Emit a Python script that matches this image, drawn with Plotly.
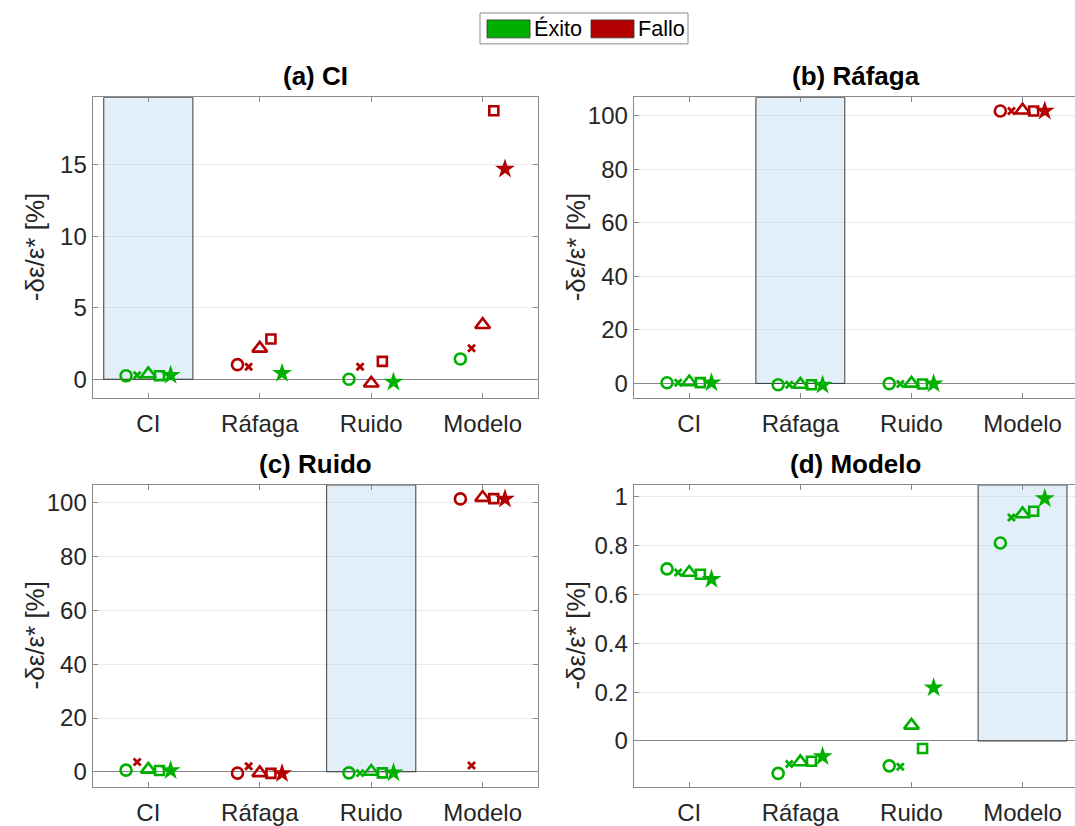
import plotly.graph_objects as go

# ---- data -------------------------------------------------------------
categories = ["CI", "Ráfaga", "Ruido", "Modelo"]
marker_kinds = ["circle", "x", "triangle", "square", "star"]

# rows follow `categories`, columns follow `marker_kinds`
vals_a = [[0.24, 0.28, 0.37, 0.24, 0.28],
          [1.02, 0.88, 2.16, 2.81, 0.42],
          [0.00, 0.88, -0.28, 1.25, -0.20],
          [1.42, 2.16, 3.81, 18.76, 14.70]]
ok_a = [[1, 1, 1, 1, 1],
        [0, 0, 0, 0, 1],
        [1, 0, 0, 0, 1],
        [1, 0, 0, 0, 0]]

vals_b = [[0.25, 0.20, 0.50, 0.30, 0.25],
          [-0.50, -0.50, -0.40, -0.50, -0.60],
          [-0.10, -0.20, 0.00, -0.20, -0.10],
          [101.7, 101.7, 102.0, 101.7, 101.7]]
ok_b = [[1, 1, 1, 1, 1],
        [1, 1, 1, 1, 1],
        [1, 1, 1, 1, 1],
        [0, 0, 0, 0, 0]]

vals_c = [[0.60, 3.60, 0.90, 0.50, 0.50],
          [-0.50, 2.10, -0.40, -0.60, -0.60],
          [-0.40, -0.50, 0.10, -0.40, -0.40],
          [101.5, 2.30, 102.0, 101.6, 101.5]]
ok_c = [[1, 0, 1, 1, 1],
        [0, 0, 0, 0, 0],
        [1, 1, 1, 1, 1],
        [0, 0, 0, 0, 0]]

vals_d = [[0.705, 0.690, 0.690, 0.683, 0.663],
          [-0.133, -0.094, -0.086, -0.083, -0.064],
          [-0.102, -0.106, 0.064, -0.031, 0.218],
          [0.811, 0.916, 0.930, 0.941, 0.993]]
ok_d = [[1, 1, 1, 1, 1],
        [1, 1, 1, 1, 1],
        [1, 1, 1, 1, 1],
        [1, 1, 1, 1, 1]]

titles = ["(a) CI", "(b) Ráfaga", "(c) Ruido", "(d) Modelo"]
highlight = ["CI", "Ráfaga", "Ruido", "Modelo"]
y_ranges = [[-1.3, 19.7], [-5.4, 106.8], [-5.6, 106.7], [-0.188, 1.049]]
y_ticks = [[0, 5, 10, 15],
           [0, 20, 40, 60, 80, 100],
           [0, 20, 40, 60, 80, 100],
           [0, 0.2, 0.4, 0.6, 0.8, 1]]
y_label = "-δε/ε* [%]"

# ---- styling ----------------------------------------------------------
W, H = 1075, 826
FONT = "Liberation Sans, Arial, Helvetica, sans-serif"
TXT = "#262626"
AX = "#8a8a8a"
GRID = "#ebebeb"
GREEN = "#00b000"
RED = "#b30000"
SHADE = "rgba(166,205,234,0.33)"

# pixel boxes of the four axes: left, right, top, bottom
boxes = [(92.6, 538.4, 95.7, 397.3),
         (633.7, 1075.0, 95.7, 397.3),
         (92.6, 538.4, 484.7, 787.7),
         (633.7, 1075.0, 484.7, 787.7)]
step_px = [111.45, 111.1, 111.45, 111.1]

offsets = [-0.2, -0.1, 0.0, 0.1, 0.2]
symbols = {"circle": "circle-open", "x": "x-thin", "triangle": "triangle-up-open",
           "square": "square-open", "star": "star"}
sizes = {"circle": 11, "x": 7, "triangle": 13, "square": 9, "star": 15}

all_vals = [vals_a, vals_b, vals_c, vals_d]
all_ok = [ok_a, ok_b, ok_c, ok_d]

fig = go.Figure()
shapes = []
annotations = []

for p in range(4):
    xs = "" if p == 0 else str(p + 1)
    xa, ya = "x" + xs, "y" + xs
    left, right, top, bottom = boxes[p]
    right_x = 0.5 + (right - left) / step_px[p]

    fig.update_layout(**{
        "xaxis" + xs: dict(
            domain=[left / W, right / W], anchor=ya,
            range=[0.5, right_x],
            tickvals=list(range(1, len(categories) + 1)), ticktext=categories,
            ticks="inside", ticklen=5, tickcolor=AX,
            showline=True, linecolor=AX, linewidth=1, mirror="ticks",
            showgrid=False, zeroline=False,
            tickfont=dict(family=FONT, size=24, color=TXT),
            ticklabelstandoff=4,
            fixedrange=True,
        ),
        "yaxis" + xs: dict(
            domain=[1 - bottom / H, 1 - top / H], anchor=xa,
            range=y_ranges[p], tickvals=y_ticks[p],
            ticks="inside", ticklen=5, tickcolor=AX,
            showline=True, linecolor=AX, linewidth=1,
            mirror="ticks" if p in (0, 2) else False,
            showgrid=True, gridcolor=GRID, gridwidth=1,
            zeroline=True, zerolinecolor="#858585", zerolinewidth=1,
            tickfont=dict(family=FONT, size=24, color=TXT),
            fixedrange=True,
        ),
    })

    # shaded column of the perturbed case
    k = categories.index(highlight[p]) + 1
    shapes.append(dict(type="rect", xref=xa, yref=ya, x0=k - 0.4, x1=k + 0.4,
                       y0=0, y1=y_ranges[p][1], layer="between",
                       fillcolor=SHADE, line=dict(color="#3a3a3a", width=1)))

    # markers: one trace per marker kind
    for m, kind in enumerate(marker_kinds):
        xv = [c + 1 + offsets[m] for c in range(len(categories))]
        yv = [all_vals[p][c][m] for c in range(len(categories))]
        cols = [GREEN if all_ok[p][c][m] else RED for c in range(len(categories))]
        mk = dict(symbol=symbols[kind], size=sizes[kind], color=cols)
        if kind == "x":
            mk["line"] = dict(color=cols, width=2.8)
        elif kind == "star":
            mk["line"] = dict(width=0)
        else:
            mk["line"] = dict(width=2.6)
        fig.add_trace(go.Scatter(x=xv, y=yv, mode="markers", marker=mk,
                                 xaxis=xa, yaxis=ya, showlegend=False,
                                 hoverinfo="x+y"))

    # panel title
    annotations.append(dict(text="<b>" + titles[p] + "</b>", xref="paper", yref="paper",
                            x=(left + (left + step_px[p] * 4)) / 2 / W,
                            y=1 - (top - 21) / H, xanchor="center", yanchor="middle",
                            showarrow=False,
                            font=dict(family=FONT, size=26, color="#000000")))
    # y-axis label
    annotations.append(dict(text=y_label, xref="paper", yref="paper",
                            x=(left - 58) / W, y=1 - (top + bottom) / 2 / H,
                            textangle=-90, xanchor="center", yanchor="middle",
                            showarrow=False,
                            font=dict(family=FONT, size=26, color=TXT)))

# legend box drawn on the paper
lg = dict(x0=480, x1=688, y0=11, y1=42)
shapes.append(dict(type="rect", xref="paper", yref="paper",
                   x0=lg["x0"] / W, x1=lg["x1"] / W,
                   y0=1 - lg["y1"] / H, y1=1 - lg["y0"] / H,
                   fillcolor="white", line=dict(color="#8c8c8c", width=1)))
legend_items = [("Éxito", GREEN, 487), ("Fallo", RED, 591)]
for name, col, px in legend_items:
    shapes.append(dict(type="rect", xref="paper", yref="paper",
                       x0=px / W, x1=(px + 43) / W,
                       y0=1 - 36 / H, y1=1 - 18 / H,
                       fillcolor=col, line=dict(color="#333333", width=0.8)))
    annotations.append(dict(text=name, xref="paper", yref="paper",
                            x=(px + 45) / W, y=1 - 27 / H,
                            xanchor="left", yanchor="middle", showarrow=False,
                            font=dict(family=FONT, size=21.6, color="#000000")))

fig.update_layout(width=W, height=H, margin=dict(l=0, r=0, t=0, b=0),
                  paper_bgcolor="white", plot_bgcolor="white",
                  shapes=shapes, annotations=annotations, showlegend=False)

fig.write_html("out.html")
